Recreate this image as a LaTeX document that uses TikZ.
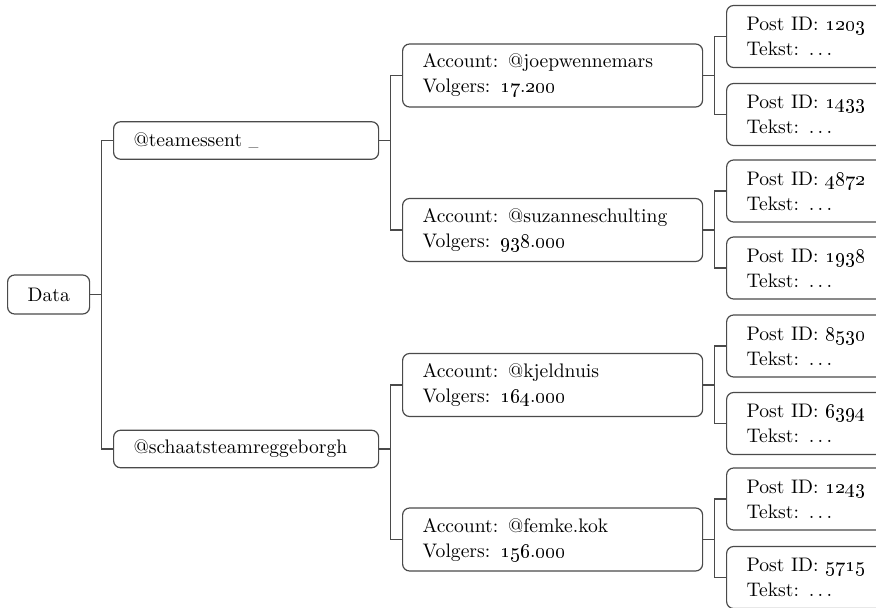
\documentclass[tikz,border=0pt]{standalone}
\usetikzlibrary{calc}
\definecolor{tline}{HTML}{4A4A4A}

\begin{document}
\begin{tikzpicture}[x=0.5pt, y=-0.5pt, line width=0.6pt,
    font=\fontsize{9.8pt}{12.5pt}\selectfont,
    box/.style={draw=tline, rounded corners=3.5pt, anchor=west, align=left,
      inner xsep=10pt, inner ysep=2pt},
    rootbox/.style={box, text width=21pt, minimum height=19.5pt},
    teambox/.style={box, text width=112.5pt, minimum height=18.75pt},
    accbox/.style={box, text width=130pt, minimum height=31.5pt},
    postbox/.style={box, text width=62pt, minimum height=31pt},
    link/.style={draw=tline, rounded corners=0pt}]
  % x, y in pixels of the 876 x 608 reference
  \useasboundingbox (0,0) rectangle (876,608);

  % root and teams
  \node[rootbox] (data) at (7,294.5) {Data};
  \node[teambox] (team1) at (113,140.5) {@teamessent\ {\tiny\_}};
  \node[teambox] (team2) at (113,449) {@schaatsteamreggeborgh};

  % accounts
  \node[accbox] (acc1) at (402,75.5)
    {Account:\enspace@joepwennemars\\Volgers:\enspace\oldstylenums{17}.\oldstylenums{200}};
  \node[accbox] (acc2) at (402,230)
    {Account:\enspace@suzanneschulting\\Volgers:\enspace\oldstylenums{938}.\oldstylenums{000}};
  \node[accbox] (acc3) at (402,385)
    {Account:\enspace@kjeldnuis\\Volgers:\enspace\oldstylenums{164}.\oldstylenums{000}};
  \node[accbox] (acc4) at (402,539.5)
    {Account:\enspace@femke.kok\\Volgers:\enspace\oldstylenums{156}.\oldstylenums{000}};

  % posts (right edge runs off the page)
  \node[postbox] (post1) at (726,36.5) {Post ID: \oldstylenums{1203}\\Tekst: $\ldots$};
  \node[postbox] (post2) at (726,114.5) {Post ID: \oldstylenums{1433}\\Tekst: $\ldots$};
  \node[postbox] (post3) at (726,191) {Post ID: \oldstylenums{4872}\\Tekst: $\ldots$};
  \node[postbox] (post4) at (726,268) {Post ID: \oldstylenums{1938}\\Tekst: $\ldots$};
  \node[postbox] (post5) at (726,346) {Post ID: \oldstylenums{8530}\\Tekst: $\ldots$};
  \node[postbox] (post6) at (726,423.5) {Post ID: \oldstylenums{6394}\\Tekst: $\ldots$};
  \node[postbox] (post7) at (726,499) {Post ID: \oldstylenums{1243}\\Tekst: $\ldots$};
  \node[postbox] (post8) at (726,577.5) {Post ID: \oldstylenums{5715}\\Tekst: $\ldots$};

  % forked edges
  \draw[link] (data.east) -- ++(11,0) |- (team1.west);
  \draw[link] (data.east) -- ++(11,0) |- (team2.west);

  \draw[link] (team1.east) -- ++(11,0) |- (acc1.west);
  \draw[link] (team1.east) -- ++(11,0) |- (acc2.west);
  \draw[link] (team2.east) -- ++(11,0) |- (acc3.west);
  \draw[link] (team2.east) -- ++(11,0) |- (acc4.west);

  \draw[link] (acc1.east) -- ++(11,0) |- (post1.west);
  \draw[link] (acc1.east) -- ++(11,0) |- (post2.west);
  \draw[link] (acc2.east) -- ++(11,0) |- (post3.west);
  \draw[link] (acc2.east) -- ++(11,0) |- (post4.west);
  \draw[link] (acc3.east) -- ++(11,0) |- (post5.west);
  \draw[link] (acc3.east) -- ++(11,0) |- (post6.west);
  \draw[link] (acc4.east) -- ++(11,0) |- (post7.west);
  \draw[link] (acc4.east) -- ++(11,0) |- (post8.west);
\end{tikzpicture}
\end{document}
